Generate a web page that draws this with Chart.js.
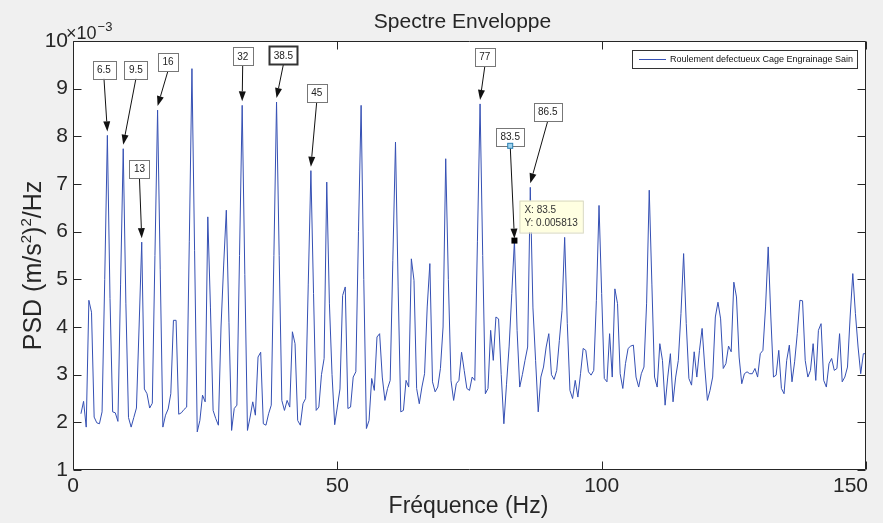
<!DOCTYPE html>
<html>
<head>
<meta charset="utf-8">
<script src="https://cdn.jsdelivr.net/npm/chart.js@4/dist/chart.umd.min.js"></script>
<style>
  html, body { margin: 0; padding: 0; background: #f0f0f0; }
  canvas { display: block; }
</style>
</head>
<body>
<canvas id="psdChart" width="883" height="523"></canvas>
<script>
// Frequency bins: first bin and spacing of the spectrum (Hz)
const freqStart = 1.5;
const freqStep = 0.5;

// PSD values, in units of 1e-3 (m/s^2)^2/Hz, one per bin from 1.5 Hz to 150 Hz
const psdMilli = [
  2.18, 2.44, 1.9, 4.56, 4.31, 2.11, 1.99, 1.97, 2.22, 5.0, 8.02, 4.6, 2.22, 2.2, 2.02, 4.9, 7.74, 4.5,
  2.1, 1.9, 2.1, 2.3, 4.0, 5.78, 2.7, 2.6, 2.3, 2.4, 5.5, 8.55, 5.2, 1.9, 2.15, 2.28, 2.6, 4.14, 4.14, 2.17,
  2.2, 2.27, 2.32, 5.8, 9.42, 5.6, 1.8, 2.04, 2.57, 2.43, 6.31, 4.4, 2.25, 2.08, 1.94, 4.0, 5.3, 6.45, 4.1, 1.83,
  2.29, 2.36, 5.5, 8.65, 5.1, 1.83, 2.11, 2.43, 2.15, 3.37, 3.47, 1.97, 1.94, 2.18, 2.36, 5.5, 8.72, 5.5, 2.46, 2.25,
  2.46, 2.32, 3.9, 3.65, 2.04, 1.94, 2.39, 2.5, 4.9, 7.28, 4.7, 2.25, 2.32, 3.0, 3.34, 7.04, 4.5, 3.0, 1.95, 2.32,
  2.7, 4.66, 4.84, 2.29, 2.32, 2.95, 3.06, 6.0, 8.65, 5.0, 1.87, 2.04, 2.92, 2.67, 3.79, 3.86, 2.95, 2.46, 2.71, 2.88,
  5.4, 7.88, 4.84, 2.22, 2.25, 2.88, 2.74, 5.43, 4.98, 2.71, 2.39, 2.74, 3.02, 4.42, 5.33, 2.85, 2.64, 2.74, 3.13, 4.0,
  7.53, 5.0, 2.88, 2.46, 2.81, 2.88, 3.47, 3.09, 2.71, 2.67, 2.95, 2.88, 5.8, 8.68, 5.5, 2.6, 2.71, 3.93, 3.3, 4.21,
  4.17, 3.0, 1.97, 2.8, 3.6, 4.7, 5.813, 3.93, 2.74, 3.0, 3.3, 3.58, 6.93, 4.4, 3.3, 2.22, 2.95, 3.16, 3.58, 3.86,
  3.0, 2.9, 3.09, 3.72, 4.35, 5.88, 4.07, 2.67, 2.5, 2.88, 2.53, 3.02, 3.55, 3.51, 3.06, 2.99, 3.09, 4.56, 6.55, 4.7,
  2.92, 2.85, 3.86, 2.95, 4.8, 4.49, 3.02, 2.71, 3.23, 3.55, 3.6, 3.62, 2.95, 2.74, 3.02, 3.16, 4.5, 6.87, 4.9, 2.95,
  2.74, 3.65, 3.3, 2.36, 2.95, 3.44, 2.43, 2.95, 3.3, 4.28, 5.54, 4.07, 2.92, 2.78, 3.48, 2.95, 3.51, 3.97, 3.16, 2.46,
  2.67, 2.95, 4.21, 4.52, 4.17, 3.13, 3.23, 3.6, 3.48, 4.94, 4.63, 3.37, 2.81, 3.02, 3.06, 3.02, 3.02, 3.13, 2.95, 3.44,
  3.51, 4.42, 5.68, 4.21, 2.95, 2.99, 3.51, 2.71, 2.6, 3.3, 3.62, 2.85, 3.27, 3.86, 4.56, 4.55, 3.3, 2.95, 3.09, 3.65,
  2.88, 3.93, 4.07, 2.88, 2.74, 3.23, 3.34, 3.09, 3.13, 3.86, 2.85, 2.95, 3.16, 4.21, 5.12, 4.28, 3.58, 3.02, 3.44, 3.44
];

// Axis ticks
const xTicks = [0, 50, 100, 150];
const yTicks = [1, 2, 3, 4, 5, 6, 7, 8, 9, 10];

// Peak callouts (frequency of the marked bin and its label)
const peakFreqs = [6.5, 9.5, 13, 16, 32, 38.5, 45, 77, 83.5, 86.5];
const peakLabels = ['6.5', '9.5', '13', '16', '32', '38.5', '45', '77', '83.5', '86.5'];

// Data tip
const tipFreq = 83.5;

// Where each callout box sits, in axis units [Hz, 1e-3]
const calloutPos = [
  [5.86, 9.40], [11.9, 9.40], [12.57, 7.31], [17.96, 9.56], [32.1, 9.68],
  [39.8, 9.70], [46.1, 8.91], [77.9, 9.66], [82.7, 7.99], [89.8, 8.51]
];

const FONT = "'Liberation Sans', Arial, Helvetica, sans-serif";
const INK = '#262626';

const points = psdMilli.map((v, i) => ({ x: freqStart + i * freqStep, y: v }));
const valueAt = (f) => psdMilli[Math.round((f - freqStart) / freqStep)];

function arrow(ctx, x0, y0, x1, y1) {
  const ang = Math.atan2(y1 - y0, x1 - x0);
  const len = 10, half = 3.5;
  const bx = x1 - len * Math.cos(ang), by = y1 - len * Math.sin(ang);
  ctx.beginPath();
  ctx.moveTo(x0, y0);
  ctx.lineTo(bx, by);
  ctx.stroke();
  ctx.beginPath();
  ctx.moveTo(x1, y1);
  ctx.lineTo(bx + half * Math.sin(ang), by - half * Math.cos(ang));
  ctx.lineTo(bx - half * Math.sin(ang), by + half * Math.cos(ang));
  ctx.closePath();
  ctx.fill();
}

const matlabFrame = {
  id: 'matlabFrame',
  beforeDraw(chart) {
    const { ctx, chartArea: a } = chart;
    ctx.save();
    ctx.fillStyle = '#f0f0f0';
    ctx.fillRect(0, 0, chart.width, chart.height);
    ctx.fillStyle = '#ffffff';
    ctx.fillRect(a.left, a.top, a.right - a.left, a.bottom - a.top);
    ctx.restore();
  },
  afterDatasetsDraw(chart) {
    const { ctx, chartArea: a, scales: { x, y } } = chart;
    ctx.save();
    ctx.font = '10px ' + FONT;
    ctx.textAlign = 'center';
    ctx.textBaseline = 'middle';
    peakFreqs.forEach((f, i) => {
      const label = peakLabels[i];
      const bx = x.getPixelForValue(calloutPos[i][0]);
      const by = y.getPixelForValue(calloutPos[i][1]);
      const w = ctx.measureText(label).width + 9, h = 18;
      const px = x.getPixelForValue(f);
      const py = y.getPixelForValue(valueAt(f));
      const isTip = f === tipFreq;
      ctx.strokeStyle = '#111';
      ctx.fillStyle = '#111';
      ctx.lineWidth = 1;
      arrow(ctx, bx, by + h / 2, px, isTip ? py - 2 : py - 4);
      ctx.fillStyle = '#ffffff';
      ctx.fillRect(bx - w / 2, by - h / 2, w, h);
      ctx.lineWidth = label === '38.5' ? 2 : 1;
      ctx.strokeStyle = label === '38.5' ? '#333' : '#777';
      ctx.strokeRect(Math.round(bx - w / 2) + 0.5, Math.round(by - h / 2) + 0.5, Math.round(w), h);
      ctx.fillStyle = '#222';
      ctx.fillText(label, bx, by + 0.5);
      if (isTip) {
        ctx.fillStyle = '#9fd3ef';
        ctx.strokeStyle = '#2a7fb0';
        ctx.lineWidth = 1;
        ctx.fillRect(bx - 2.5, by + h / 2 - 2.5, 5, 5);
        ctx.strokeRect(bx - 2.5, by + h / 2 - 2.5, 5, 5);
      }
    });

    // data tip on the 83.5 Hz bin
    const tx = x.getPixelForValue(tipFreq);
    const tv = valueAt(tipFreq);
    const ty = y.getPixelForValue(tv);
    ctx.fillStyle = '#000';
    ctx.fillRect(tx - 3, ty - 3, 6, 6);
    const lines = ['X: ' + tipFreq, 'Y: ' + (tv / 1000).toFixed(6)];
    ctx.font = '10px ' + FONT;
    const tw = Math.max(...lines.map(s => ctx.measureText(s).width)) + 10;
    const left = tx + 5, top = ty - 40;
    ctx.fillStyle = '#ffffe1';
    ctx.fillRect(left, top, tw, 32);
    ctx.strokeStyle = '#d8d8c0';
    ctx.strokeRect(left + 0.5, top + 0.5, tw, 32);
    ctx.fillStyle = '#333';
    ctx.textAlign = 'left';
    ctx.fillText(lines[0], left + 5, top + 10);
    ctx.fillText(lines[1], left + 5, top + 23);

    // legend box, top right inside the axes
    const ds = chart.data.datasets[0];
    ctx.font = '9px ' + FONT;
    const lw = ctx.measureText(ds.label).width;
    const boxW = Math.round(lw + 42), boxH = 18;
    const lx = Math.round(a.right) - 9 - boxW, ly = Math.round(a.top) + 9;
    ctx.fillStyle = '#ffffff';
    ctx.fillRect(lx, ly, boxW, boxH);
    ctx.strokeStyle = '#333';
    ctx.lineWidth = 1;
    ctx.strokeRect(lx + 0.5, ly + 0.5, boxW, boxH);
    ctx.strokeStyle = ds.borderColor;
    ctx.beginPath();
    ctx.moveTo(lx + 7, ly + 9.5);
    ctx.lineTo(lx + 34, ly + 9.5);
    ctx.stroke();
    ctx.fillStyle = '#111';
    ctx.textBaseline = 'middle';
    ctx.fillText(ds.label, lx + 38, ly + 10);
    ctx.restore();
  },
  afterDraw(chart) {
    const { ctx, chartArea: a, scales: { x, y } } = chart;
    ctx.save();
    ctx.strokeStyle = INK;
    ctx.lineWidth = 1;
    ctx.beginPath();
    const L = Math.round(a.left) + 0.5, R = Math.round(a.right) - 0.5;
    const T = Math.round(a.top) + 0.5, B = Math.round(a.bottom) - 0.5;
    ctx.rect(L, T, R - L, B - T);
    const tick = 8;
    xTicks.forEach(v => {
      const p = Math.round(x.getPixelForValue(v)) + 0.5;
      ctx.moveTo(p, B); ctx.lineTo(p, B - tick);
      ctx.moveTo(p, T); ctx.lineTo(p, T + tick);
    });
    yTicks.forEach(v => {
      const p = Math.round(y.getPixelForValue(v)) + 0.5;
      ctx.moveTo(L, p); ctx.lineTo(L + tick, p);
      ctx.moveTo(R, p); ctx.lineTo(R - tick, p);
    });
    ctx.stroke();

    ctx.fillStyle = INK;
    // x tick labels, kept inside the figure on the right
    ctx.font = '21px ' + FONT;
    ctx.textAlign = 'left';
    ctx.textBaseline = 'middle';
    xTicks.forEach(v => {
      const s = String(v);
      const w = ctx.measureText(s).width;
      const p = x.getPixelForValue(v);
      ctx.fillText(s, Math.min(p - w / 2, a.right + 2 - w), a.bottom + 16);
    });

    const cx = (a.left + a.right) / 2;
    ctx.textAlign = 'center';
    ctx.textBaseline = 'alphabetic';
    ctx.font = '21px ' + FONT;
    ctx.fillText('Spectre Enveloppe', cx - 7, 28);
    ctx.font = '23px ' + FONT;
    ctx.fillText('Fréquence (Hz)', cx - 1, 513);

    // exponent label
    ctx.textAlign = 'left';
    ctx.font = '18px ' + FONT;
    ctx.fillText('\u00d710', 66, 39);
    const ew = ctx.measureText('\u00d710').width;
    ctx.font = '13px ' + FONT;
    ctx.fillText('\u22123', 66 + ew + 1, 31);

    // y label with superscripts
    ctx.translate(41, (a.top + a.bottom) / 2 + 10);
    ctx.rotate(-Math.PI / 2);
    const parts = [['PSD (m/s', 25, 0], ['2', 15, -10], [')', 25, 0], ['2', 15, -10], ['/Hz', 25, 0]];
    let total = 0;
    parts.forEach(p => { ctx.font = p[1] + 'px ' + FONT; total += ctx.measureText(p[0]).width; });
    let pos = -total / 2;
    parts.forEach(p => {
      ctx.font = p[1] + 'px ' + FONT;
      ctx.fillText(p[0], pos, p[2]);
      pos += ctx.measureText(p[0]).width;
    });
    ctx.restore();
  }
};

new Chart(document.getElementById('psdChart'), {
  type: 'line',
  data: {
    datasets: [{
      label: 'Roulement defectueux Cage Engrainage Sain',
      data: points,
      borderColor: '#3550b4',
      borderWidth: 1,
      pointRadius: 0,
      tension: 0,
      fill: false
    }]
  },
  options: {
    responsive: false,
    animation: false,
    events: [],
    layout: { padding: { top: 41, right: 17, left: 0, bottom: 0 } },
    plugins: {
      legend: { display: false },
      tooltip: { enabled: false },
      title: { display: false }
    },
    scales: {
      x: {
        type: 'linear',
        min: 0,
        max: 150,
        afterBuildTicks: (s) => { s.ticks = xTicks.map(v => ({ value: v })); },
        afterFit: (s) => { s.height = 53; s.paddingLeft = 0; s.paddingRight = 0; },
        grid: { display: false, drawTicks: false },
        border: { display: false },
        ticks: { display: false }
      },
      y: {
        type: 'linear',
        min: 1,
        max: 10,
        afterBuildTicks: (s) => { s.ticks = yTicks.map(v => ({ value: v })); },
        afterFit: (s) => { s.width = 73; s.paddingTop = 0; s.paddingBottom = 0; },
        grid: { display: false, drawTicks: false },
        border: { display: false },
        ticks: { color: INK, padding: 5, font: { family: FONT, size: 21 } }
      }
    }
  },
  plugins: [matlabFrame]
});
</script>
</body>
</html>
